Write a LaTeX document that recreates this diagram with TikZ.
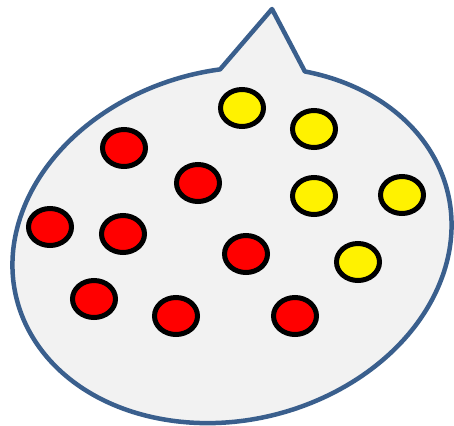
\documentclass[tikz,border=0pt]{standalone}
\usepackage{xcolor}
\usepackage{tikz}
\usetikzlibrary{shapes.geometric}

\definecolor{bubblefill}{HTML}{F2F2F2}
\definecolor{bubbleline}{HTML}{3A5F8D}

\begin{document}
\begin{tikzpicture}[
x=1pt, y=-1pt,
dot/.style={ellipse, draw=black, line width=5pt, minimum width=43pt, minimum height=37pt, inner sep=0pt},
reddot/.style={dot, fill=red},
yellowdot/.style={dot, fill=yellow},
bubble/.style={fill=bubblefill, draw=bubbleline, line width=4.5pt, line join=round}
]
\useasboundingbox (0,0) rectangle (454,425);
% speech bubble: tilted ellipse with a wedge on top
\coordinate (tip) at (272,9);
\begin{scope}[shift={(232,245)}, y=1pt, rotate=14]
\draw[bubble] (82:222 and 175) -- (tip) -- (59.5:222 and 175)
  arc[start angle=59.5, end angle=-278, x radius=222, y radius=175] -- cycle;
\end{scope}
% red dots
\node[reddot] (r1) at (124,148) {};
\node[reddot] (r2) at (198,183) {};
\node[reddot] (r3) at (50,227) {};
\node[reddot] (r4) at (123,234) {};
\node[reddot] (r5) at (246,254) {};
\node[reddot] (r6) at (94,299) {};
\node[reddot] (r7) at (176,316) {};
\node[reddot] (r8) at (295,316) {};
% yellow dots
\node[yellowdot] (y1) at (242,108) {};
\node[yellowdot] (y2) at (314,129) {};
\node[yellowdot] (y3) at (314,196) {};
\node[yellowdot] (y4) at (402,195) {};
\node[yellowdot] (y5) at (358,262) {};
\end{tikzpicture}
\end{document}
